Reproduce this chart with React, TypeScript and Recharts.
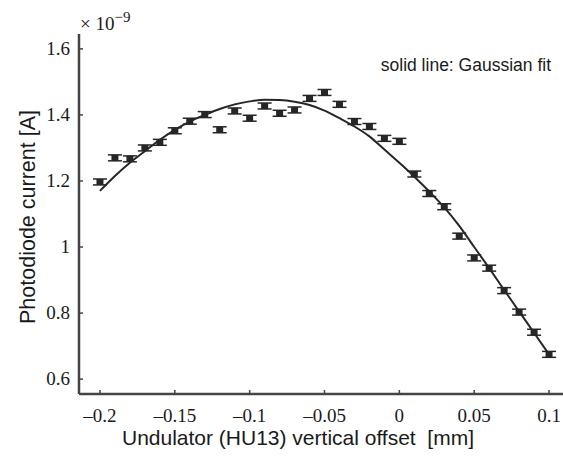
import React from 'react';
import { ComposedChart, Line, Scatter, ErrorBar, XAxis, YAxis } from 'recharts';

// vertical offset of the undulator [mm]
const offsets = [
    -0.2, -0.19, -0.18, -0.17, -0.16, -0.15, -0.14, -0.13, -0.12, -0.11, -0.1,
    -0.09, -0.08, -0.07, -0.06, -0.05, -0.04, -0.03, -0.02, -0.01, 0,
    0.01, 0.02, 0.03, 0.04, 0.05, 0.06, 0.07, 0.08, 0.09, 0.1,
];

// measured photodiode current [x 1e-9 A]
const current = [
    1.197, 1.27, 1.267, 1.3, 1.317, 1.352, 1.381, 1.401, 1.355, 1.412, 1.39,
    1.427, 1.405, 1.415, 1.45, 1.468, 1.432, 1.38, 1.365, 1.329, 1.32,
    1.221, 1.162, 1.122, 1.033, 0.967, 0.936, 0.868, 0.803, 0.742, 0.675,
];

const currentErr = [
    0.009, 0.009, 0.009, 0.009, 0.009, 0.009, 0.009, 0.009, 0.009, 0.009, 0.009,
    0.009, 0.009, 0.009, 0.009, 0.009, 0.009, 0.009, 0.009, 0.009, 0.009,
    0.009, 0.009, 0.009, 0.009, 0.009, 0.009, 0.009, 0.009, 0.009, 0.009,
];

// Gaussian fit
const gaussFit = [
    1.17, 1.215, 1.255, 1.29, 1.325, 1.355, 1.38, 1.4, 1.418, 1.432, 1.441,
    1.446, 1.445, 1.44, 1.43, 1.413, 1.39, 1.365, 1.335, 1.295, 1.255,
    1.213, 1.168, 1.12, 1.064, 1.0, 0.936, 0.87, 0.805, 0.74, 0.675,
];

const xTicks = [-0.2, -0.15, -0.1, -0.05, 0, 0.05, 0.1];
const yTicks = [0.6, 0.8, 1, 1.2, 1.4, 1.6];

const measured = offsets.map((x, i) => ({ x, y: current[i], err: currentErr[i] }));
const fitted = offsets.map((x, i) => ({ x, fit: gaussFit[i] }));

const INK = '#262626';
const AXIS = '#444';
const SERIF = '"Liberation Serif", "DejaVu Serif", serif';
const SANS = '"Liberation Sans", Arial, Helvetica, sans-serif';

const fmt = (v: number) => {
    const s = String(Math.round(v * 100) / 100);
    return s.startsWith('-') ? '\u2013' + s.slice(1) : s;
};

const BottomTick = (props: any) => {
    const { x, y, payload } = props;
    return (
        <g>
            <line x1={x} x2={x} y1={y} y2={y - 4} stroke={AXIS} strokeWidth={1.5} />
            <text x={x} y={y + 28} textAnchor="middle" fontFamily={SERIF} fontSize={19} fill="#1a1a1a">
                {fmt(payload.value)}
            </text>
        </g>
    );
};

const TopTick = (props: any) => {
    const { x, y } = props;
    return <line x1={x} x2={x} y1={y} y2={y + 4} stroke={AXIS} strokeWidth={1.5} />;
};

const LeftTick = (props: any) => {
    const { x, y, payload } = props;
    return (
        <g>
            <line x1={x} x2={x + 4} y1={y} y2={y} stroke={AXIS} strokeWidth={1.5} />
            <text x={x - 9} y={y + 6} textAnchor="end" fontFamily={SERIF} fontSize={19} fill="#1a1a1a">
                {fmt(payload.value)}
            </text>
        </g>
    );
};

const Marker = (props: any) => {
    const { cx, cy } = props;
    return <rect x={cx - 3.5} y={cy - 3} width={7} height={6} fill={INK} />;
};

export default function App() {
    return (
        <div style={{ position: 'absolute', left: 0, top: 0, width: 563, height: 459, overflow: 'hidden', background: '#fff', fontFamily: SERIF }}>
            <ComposedChart
                width={573}
                height={459}
                margin={{ top: 34, right: 0, bottom: 0, left: 0 }}
                style={{ fontFamily: SERIF }}
            >
                <XAxis
                    type="number"
                    dataKey="x"
                    domain={[-0.214, 0.116]}
                    ticks={xTicks}
                    allowDataOverflow
                    height={65}
                    tickLine={false}
                    tickSize={0}
                    tickMargin={0}
                    tick={<BottomTick />}
                    axisLine={{ stroke: AXIS, strokeWidth: 2.5 }}
                />
                <XAxis
                    xAxisId="top"
                    orientation="top"
                    type="number"
                    dataKey="x"
                    domain={[-0.214, 0.116]}
                    ticks={xTicks}
                    allowDataOverflow
                    height={0}
                    tickLine={false}
                    tickSize={0}
                    tickMargin={0}
                    tick={<TopTick />}
                    axisLine={{ stroke: AXIS, strokeWidth: 2 }}
                />
                <YAxis
                    type="number"
                    domain={[0.555, 1.645]}
                    ticks={yTicks}
                    allowDataOverflow
                    width={79}
                    tickLine={false}
                    tickSize={0}
                    tickMargin={0}
                    tick={<LeftTick />}
                    axisLine={{ stroke: AXIS, strokeWidth: 2.5 }}
                />
                <Line
                    data={fitted}
                    dataKey="fit"
                    type="monotone"
                    stroke={INK}
                    strokeWidth={2}
                    dot={false}
                    activeDot={false}
                    isAnimationActive={false}
                />
                <Scatter data={measured} dataKey="y" shape={<Marker />} isAnimationActive={false}>
                    <ErrorBar dataKey="err" direction="y" width={7} stroke={INK} strokeWidth={1.5} isAnimationActive={false} />
                </Scatter>
            </ComposedChart>
            <svg width={563} height={459} style={{ position: 'absolute', left: 0, top: 0, pointerEvents: 'none' }}>
                <text x={80} y={30} fontFamily={SERIF} fontSize={19} fill="#1a1a1a">
                    {'\u00d7 10'}
                    <tspan dy={-8} fontSize={15}>{'\u22129'}</tspan>
                </text>
                <text x={551} y={71} textAnchor="end" fontFamily={SANS} fontSize={17.5} fill="#1a1a1a">
                    solid line: Gaussian fit
                </text>
                <text
                    transform="translate(35,217) rotate(-90)"
                    textAnchor="middle"
                    fontFamily={SANS}
                    fontSize={21.5}
                    fill="#1a1a1a"
                >
                    Photodiode current [A]
                </text>
                <text
                    x={298}
                    y={445}
                    textAnchor="middle"
                    fontFamily={SANS}
                    fontSize={21}
                    fill="#1a1a1a"
                    style={{ whiteSpace: 'pre' }}
                >
                    {'Undulator (HU13) vertical offset  [mm]'}
                </text>
            </svg>
        </div>
    );
}
